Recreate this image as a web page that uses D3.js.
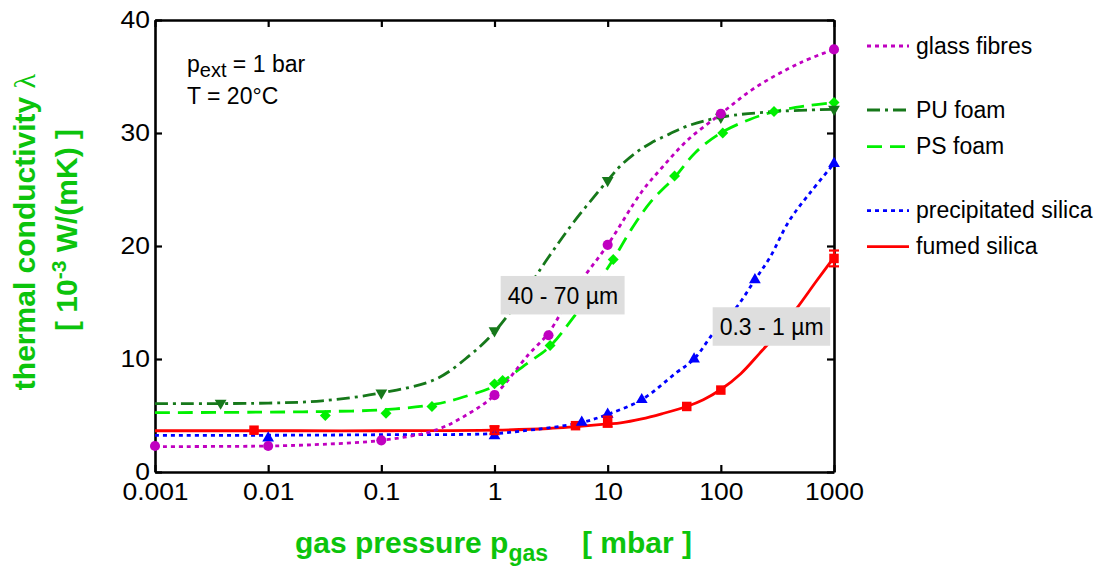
<!DOCTYPE html>
<html>
<head>
<meta charset="utf-8">
<script src="https://cdn.jsdelivr.net/npm/d3@7"></script>
<style>
  html, body { margin: 0; padding: 0; background: #fff; }
  svg { display: block; font-family: "Liberation Sans", Arial, sans-serif; }
</style>
</head>
<body>
<svg id="chart" width="1102" height="574"></svg>
<script>
// ---------- DATA ----------
const xTickValues = [0.001, 0.01, 0.1, 1, 10, 100, 1000];
const xTickLabels = ["0.001", "0.01", "0.1", "1", "10", "100", "1000"];
const yTickValues = [0, 10, 20, 30, 40];
const yTickLabels = ["0", "10", "20", "30", "40"];

const seriesNames = ["glass fibres", "PU foam", "PS foam", "precipitated silica", "fumed silica"];

// measured points (pressure in mbar, conductivity in 10^-3 W/(mK))
const glassP = [0.001, 0.01, 0.1, 1, 3, 10, 100, 1000];
const glassV = [2.3, 2.3, 2.8, 6.8, 12.1, 20.1, 31.7, 37.4];
const puP = [0.0038, 0.1, 1, 10, 100, 1000];
const puV = [6.1, 7.0, 12.5, 25.8, 31.4, 32.1];
const psP = [0.032, 0.11, 0.28, 1.0, 1.18, 3.1, 11.2, 39, 104, 295, 1000];
const psV = [5.0, 5.2, 5.8, 7.8, 8.1, 11.2, 18.8, 26.2, 30.0, 31.9, 32.7];
const precP = [0.01, 1, 5.9, 10, 20, 58, 200, 1000];
const precV = [3.0, 3.2, 4.4, 5.1, 6.4, 10.0, 17.0, 27.3];
const fumedP = [0.0075, 1, 5.2, 10, 50, 100, 1000];
const fumedV = [3.7, 3.7, 4.1, 4.45, 5.8, 7.25, 18.9];
const fumedErr = [0, 0.35, 0, 0.45, 0, 0, 0.7];

// fitted curves
const glassCurveP = [0.001, 0.01, 0.03, 0.1, 0.3, 0.6, 1, 2, 3, 5, 10, 20, 30, 50, 100, 200, 500, 1000];
const glassCurveV = [2.25, 2.3, 2.45, 2.8, 3.7, 5.2, 6.8, 10.4, 12.3, 16.0, 20.1, 24.8, 26.9, 29.3, 31.7, 34.0, 36.2, 37.4];
const puCurveP = [0.001, 0.01, 0.03, 0.1, 0.3, 0.6, 1, 2, 3, 5, 10, 13, 18, 24, 35, 50, 100, 300, 1000];
const puCurveV = [6.05, 6.1, 6.3, 7.0, 8.2, 10.3, 12.4, 16.4, 19.0, 22.1, 25.8, 27.1, 28.3, 29.1, 29.9, 30.6, 31.4, 31.9, 32.1];
const psCurveP = [0.001, 0.01, 0.03, 0.1, 0.3, 0.6, 1, 2, 3, 5, 11.2, 16, 24, 40, 60, 100, 180, 300, 570, 1000];
const psCurveV = [5.25, 5.3, 5.35, 5.5, 6.0, 6.8, 7.6, 9.7, 11.0, 13.7, 18.8, 21.4, 23.9, 26.2, 28.3, 30.0, 31.2, 31.9, 32.4, 32.7];
const precCurveP = [0.001, 0.01, 0.1, 1, 2, 3, 6, 10, 20, 40, 58, 86, 138, 200, 272, 400, 614, 1000];
const precCurveV = [3.25, 3.25, 3.3, 3.4, 3.7, 3.9, 4.4, 5.1, 6.4, 8.75, 10.0, 12.3, 14.6, 17.0, 19.0, 22.2, 24.7, 27.3];
const fumedCurveP = [0.001, 0.01, 0.1, 1, 3, 5, 10, 13, 20, 30, 50, 70, 100, 150, 220, 330, 470, 700, 1000];
const fumedCurveV = [3.65, 3.65, 3.65, 3.7, 3.85, 4.0, 4.25, 4.35, 4.7, 5.15, 5.8, 6.4, 7.3, 8.7, 10.5, 12.5, 14.5, 16.9, 19.0];

// annotation boxes (anchored in data coordinates: top-left corner)
const boxTexts = ["40 - 70 µm", "0.3 - 1 µm"];
const boxP = [1.134, 84.7];
const boxV = [17.35, 14.58];

// ---------- CHART ----------
const svg = d3.select("#chart");
const x = d3.scaleLog().domain([0.001, 1000]).range([155, 834]);
const y = d3.scaleLinear().domain([0, 40]).range([472, 20]);

const black = "#000";
const titleGreen = "#0cc40c";
const tickFont = 23;
const stretch = 1.15;

// axes
const gB = svg.append("g").attr("transform", `translate(0,${y(0)})`)
  .call(d3.axisBottom(x).tickValues(xTickValues).tickFormat((d, i) => xTickLabels[i]).tickSizeInner(-7).tickSizeOuter(0));
const gT = svg.append("g").attr("transform", `translate(0,${y(40)})`)
  .call(d3.axisTop(x).tickValues(xTickValues).tickFormat("").tickSizeInner(-7).tickSizeOuter(0));
const gL = svg.append("g").attr("transform", `translate(${x(0.001)},0)`)
  .call(d3.axisLeft(y).tickValues(yTickValues).tickFormat((d, i) => yTickLabels[i]).tickSizeInner(-7).tickSizeOuter(0));
const gR = svg.append("g").attr("transform", `translate(${x(1000)},0)`)
  .call(d3.axisRight(y).tickValues(yTickValues).tickFormat("").tickSizeInner(-7).tickSizeOuter(0));

[gB, gT, gL, gR].forEach(g => {
  g.select(".domain").attr("stroke", black).attr("stroke-width", 2.6);
  g.selectAll(".tick line").attr("stroke", black).attr("stroke-width", 2.2);
});
gB.selectAll(".tick text")
  .attr("y", 28).attr("dy", 0)
  .attr("font-size", tickFont).attr("font-family", "Liberation Sans, Arial, sans-serif")
  .attr("fill", black)
  .attr("transform", `scale(${stretch},1)`);
gL.selectAll(".tick text")
  .attr("x", -5 / stretch).attr("dy", "0.32em")
  .attr("font-size", tickFont).attr("font-family", "Liberation Sans, Arial, sans-serif")
  .attr("fill", black)
  .attr("transform", `scale(${stretch},1)`);

// series definitions
const series = [
  { name: seriesNames[4], color: "#ff0000", dash: null, P: fumedP, V: fumedV, cP: fumedCurveP, cV: fumedCurveV, sym: "square" },
  { name: seriesNames[3], color: "#0000ff", dash: "4,4", P: precP, V: precV, cP: precCurveP, cV: precCurveV, sym: "triUp" },
  { name: seriesNames[2], color: "#00f000", dash: "15,8", P: psP, V: psV, cP: psCurveP, cV: psCurveV, sym: "diamond" },
  { name: seriesNames[1], color: "#16781a", dash: "13,5,3,5", P: puP, V: puV, cP: puCurveP, cV: puCurveV, sym: "triDown" },
  { name: seriesNames[0], color: "#c000c0", dash: "4,4", P: glassP, V: glassV, cP: glassCurveP, cV: glassCurveV, sym: "circle" }
];

const line = d3.line().x(d => x(d[0])).y(d => y(d[1])).curve(d3.curveCatmullRom.alpha(0.5));

const plot = svg.append("g");
series.forEach(s => {
  const pts = s.cP.map((p, i) => [p, s.cV[i]]);
  plot.append("path").datum(pts)
    .attr("d", line)
    .attr("fill", "none")
    .attr("stroke", s.color)
    .attr("stroke-width", 2.8)
    .attr("stroke-dasharray", s.dash);
});

function symbolPath(sym) {
  if (sym === "circle") return { d: d3.symbol().type(d3.symbolCircle).size(80)(), rot: 0 };
  if (sym === "square") return { d: d3.symbol().type(d3.symbolSquare).size(90)(), rot: 0 };
  if (sym === "diamond") return { d: d3.symbol().type(d3.symbolSquare).size(60)(), rot: 45 };
  if (sym === "triUp") return { d: d3.symbol().type(d3.symbolTriangle).size(60)(), rot: 0 };
  if (sym === "triDown") return { d: d3.symbol().type(d3.symbolTriangle).size(60)(), rot: 180 };
}

series.forEach(s => {
  const sp = symbolPath(s.sym);
  const pts = s.P.map((p, i) => [p, s.V[i]]);
  plot.append("g").selectAll("path").data(pts).join("path")
    .attr("d", sp.d)
    .attr("fill", s.color)
    .attr("transform", d => `translate(${x(d[0])},${y(d[1])}) rotate(${sp.rot})`);
});

// error bars (fumed silica)
const errPts = fumedP.map((p, i) => [p, fumedV[i], fumedErr[i]]).filter(d => d[2] > 0);
const eg = plot.append("g").attr("stroke", "#ff0000").attr("stroke-width", 2.2);
errPts.forEach(d => {
  const cx = x(d[0]);
  eg.append("line").attr("x1", cx).attr("x2", cx).attr("y1", y(d[1] - d[2])).attr("y2", y(d[1] + d[2]));
  [d[1] - d[2], d[1] + d[2]].forEach(v => {
    eg.append("line").attr("x1", cx - 5).attr("x2", cx + 5).attr("y1", y(v)).attr("y2", y(v));
  });
});

// annotation boxes
boxTexts.forEach((t, i) => {
  const bx = x(boxP[i]), by = y(boxV[i]);
  const g = svg.append("g");
  const rect = g.append("rect").attr("fill", "#dedede");
  const txt = g.append("text")
    .attr("x", bx + 7).attr("y", by + 28)
    .attr("font-size", 23).attr("fill", black).text(t);
  const bb = txt.node().getBBox();
  rect.attr("x", bx).attr("y", by).attr("width", bb.width + 13.5).attr("height", 38.5);
});

// condition annotation
const ann = svg.append("text").attr("x", 187).attr("y", 72).attr("font-size", 23).attr("fill", black);
ann.append("tspan").text("p");
ann.append("tspan").attr("font-size", 20).attr("dy", 5).text("ext");
ann.append("tspan").attr("dy", -5).text(" = 1 bar");
svg.append("text").attr("x", 187).attr("y", 103.5).attr("font-size", 23).attr("fill", black).text("T = 20°C");

// legend
const legendOrder = [4, 3, 2, 1, 0];
const legendY = [46, 110, 146.7, 210.7, 246.7];
legendOrder.forEach((si, k) => {
  const s = series[si];
  const ly = legendY[k];
  svg.append("line")
    .attr("x1", 867).attr("x2", 909).attr("y1", ly).attr("y2", ly)
    .attr("stroke", s.color).attr("stroke-width", 2.8)
    .attr("stroke-dasharray", s.dash);
  svg.append("text").attr("x", 916).attr("y", ly + 7.5)
    .attr("font-size", 23).attr("fill", black).text(s.name);
});

// axis titles
const xt = svg.append("text").attr("x", 295).attr("y", 553)
  .attr("font-size", 30).attr("font-weight", "bold").attr("fill", titleGreen);
xt.append("tspan").text("gas pressure p");
xt.append("tspan").attr("font-size", 23).attr("dy", 8).text("gas");
svg.append("text").attr("x", 582).attr("y", 553)
  .attr("font-size", 30).attr("font-weight", "bold").attr("fill", titleGreen).text("[ mbar ]");

const yt1 = svg.append("text").attr("transform", "translate(35,232) rotate(-90)")
  .attr("text-anchor", "middle").attr("font-size", 30).attr("font-weight", "bold").attr("fill", titleGreen);
yt1.append("tspan").text("thermal conductivity ");
yt1.append("tspan").attr("font-family", "Liberation Serif, DejaVu Serif, serif").attr("font-weight", "normal").text("λ");

const yt2 = svg.append("text").attr("transform", "translate(77,230) rotate(-90)")
  .attr("text-anchor", "middle").attr("font-size", 30).attr("font-weight", "bold").attr("fill", titleGreen);
yt2.append("tspan").text("[ 10");
yt2.append("tspan").attr("font-size", 21).attr("dy", -11).text("-3");
yt2.append("tspan").attr("dy", 11).text(" W/(mK) ]");
</script>
</body>
</html>
